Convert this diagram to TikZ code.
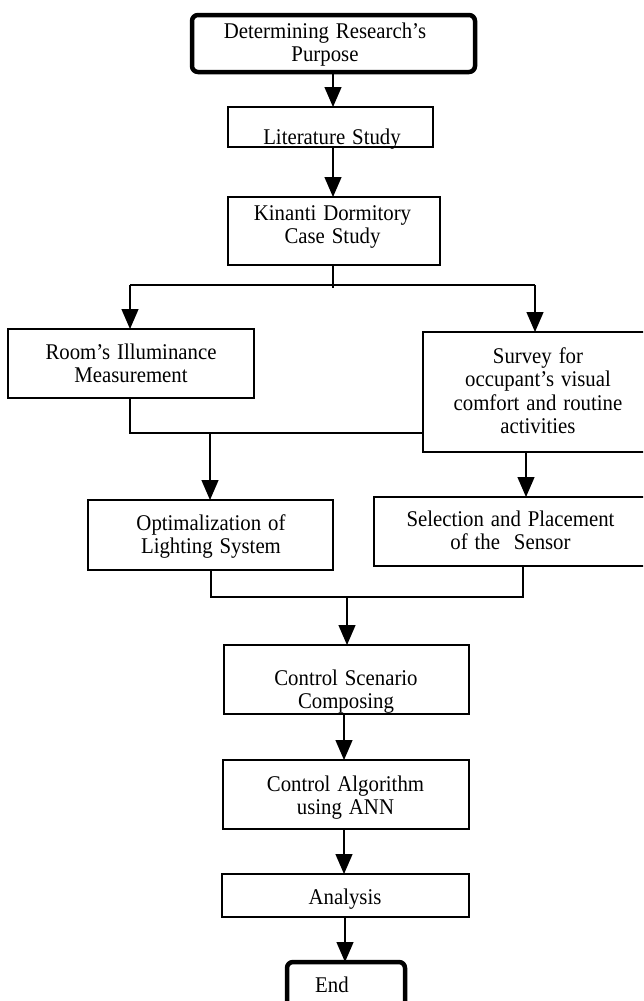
\documentclass[tikz,border=0pt]{standalone}
\usepackage{fontspec}
\setmainfont{Liberation Serif}
\usetikzlibrary{arrows.meta}
\begin{document}
\begin{tikzpicture}[x=1pt,y=-1pt,
  box/.style={draw=black, line width=1.3pt, rectangle, inner sep=0pt, outer sep=0pt},
  termbox/.style={draw=black, line width=4.5pt, rectangle, rounded corners=6pt, inner sep=0pt, outer sep=0pt},
  txt/.style={anchor=base, align=center, text width=300pt, inner sep=0pt,
    yscale=1.08, transform shape,
    font=\fontsize{20.8pt}{21.8pt}\selectfont},
  line/.style={draw=black, line width=1.3pt},
  arr/.style={line, -{Triangle[length=20pt,width=17pt]}}]
\useasboundingbox (0,0) rectangle (643,1001);
\clip (0,0) rectangle (643,1001);

% boxes
\node[termbox, minimum width=283pt, minimum height=57pt] (start) at (333.5,43.5) {};
\node[box, minimum width=205pt, minimum height=40pt] (lit) at (330.5,127) {};
\node[box, minimum width=212pt, minimum height=68pt] (kin) at (334,231) {};
\node[box, minimum width=246pt, minimum height=69pt] (room) at (131,363.5) {};
\node[box, minimum width=230pt, minimum height=120pt] (survey) at (538,392) {};
\node[box, minimum width=245pt, minimum height=70pt] (opt) at (210.5,535) {};
\node[box, minimum width=273pt, minimum height=69pt] (sel) at (510.5,531.5) {};
\node[box, minimum width=245pt, minimum height=69pt] (scen) at (346.5,679.5) {};
\node[box, minimum width=246pt, minimum height=69pt] (alg) at (346,794.5) {};
\node[box, minimum width=247pt, minimum height=43pt] (ana) at (345.5,895.5) {};
\node[termbox, minimum width=118pt, minimum height=48pt] (end) at (346,986) {};

% texts
\node[txt] (tstart) at (325,38) {Determining Research’s\\Purpose};
\node[txt] (tlit) at (332,144) {Literature Study};
\node[txt] (tkin) at (332.5,220) {Kinanti Dormitory\\Case Study};
\node[txt] (troom) at (131,359) {Room’s Illuminance\\Measurement};
\node[txt] (tsurvey) at (538,363) {Survey for\\occupant’s visual\\comfort and routine\\activities};
\node[txt] (topt) at (211,530) {Optimalization of\\Lighting System};
\node[txt] (tsel) at (510.5,526) {Selection and Placement\\of the\ \ Sensor};
\node[txt] (tscen) at (346,685) {Control Scenario\\Composing};
\node[txt] (talg) at (345.5,791) {Control Algorithm\\using ANN};
\node[txt] (tana) at (345,904) {Analysis};
\node[txt] (tend) at (332,992) {End};

% helper coordinates
\coordinate (c1) at (333,0);
\coordinate (br) at (333,285);
\coordinate (brs) at (333,288);
\coordinate (bl) at (130,285);
\coordinate (brr) at (535,285);
\coordinate (m1) at (130,433);
\coordinate (m1d) at (210,433);
\coordinate (sx) at (526,0);
\coordinate (m2l) at (211,597);
\coordinate (m2r) at (523,597);
\coordinate (m2d) at (347,597);
\coordinate (c2) at (344,0);
\coordinate (c3) at (345,0);

% connectors
\draw[arr] (start.south -| c1) -- (lit.north -| c1);
\draw[arr] (lit.south -| c1) -- (kin.north -| c1);
\draw[line] (kin.south -| br) -- (brs);
\draw[line] (bl) -- (brr);
\draw[arr] (bl) -- (bl |- room.north);
\draw[arr] (brr) -- (brr |- survey.north);
\draw[line] (room.south -| m1) -- (m1) -- (m1 -| survey.west);
\draw[arr] (m1d) -- (m1d |- opt.north);
\draw[arr] (survey.south -| sx) -- (sel.north -| sx);
\draw[line] (opt.south -| m2l) -- (m2l) -- (m2r) -- (sel.south -| m2r);
\draw[arr] (m2d) -- (m2d |- scen.north);
\draw[arr] (scen.south -| c2) -- (alg.north -| c2);
\draw[arr] (alg.south -| c2) -- (ana.north -| c2);
\draw[arr] (ana.south -| c3) -- (end.north -| c3);
\end{tikzpicture}
\end{document}
